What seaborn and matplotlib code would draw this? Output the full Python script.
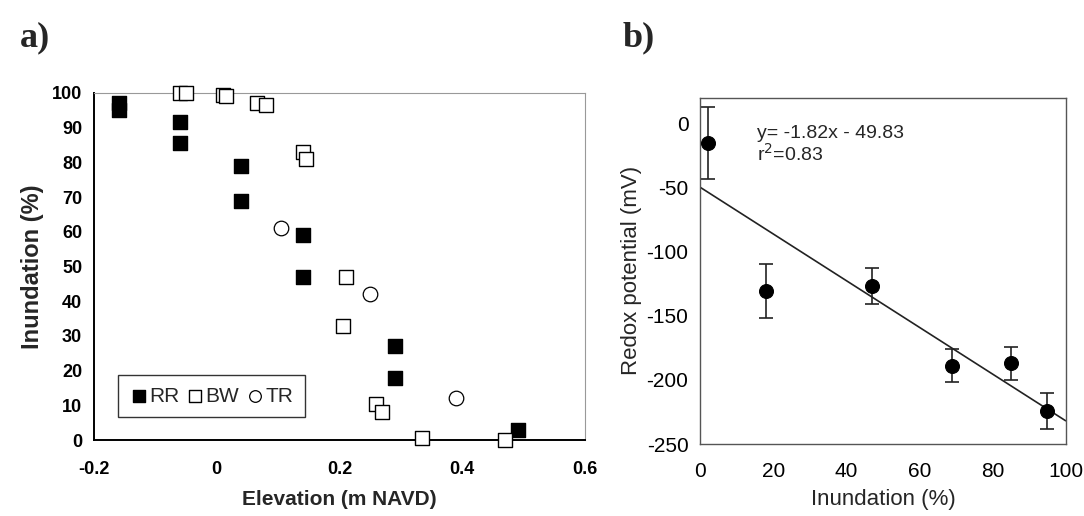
import matplotlib
matplotlib.use("Agg")
import matplotlib.pyplot as plt
import seaborn as sns
import pandas as pd

# panel a: elevation vs inundation for three marshes
rr_elev = [-0.16, -0.16, -0.06, -0.06, 0.04, 0.04, 0.14, 0.14, 0.29, 0.29, 0.49]
rr_inund = [97, 95, 91.5, 85.5, 79, 69, 59, 47, 27, 18, 3]
bw_elev = [-0.06, -0.05, 0.01, 0.015, 0.065, 0.08, 0.14, 0.145, 0.21, 0.205, 0.26, 0.27, 0.335, 0.47]
bw_inund = [100, 100, 99.5, 99, 97, 96.5, 83, 81, 47, 33, 10.5, 8, 0.5, 0]
tr_elev = [0.105, 0.25, 0.39]
tr_inund = [61, 42, 12]

# panel b: redox potential vs inundation
inund = [2, 18, 47, 69, 85, 95]
redox = [-15, -131, -127, -189, -187, -224]
redox_err = [28, 21, 14, 13, 13, 14]
slope, intercept = -1.82, -49.83
fit_x = [0, 100]

sns.set_style("white")
plt.rcParams['font.family'] = ['Liberation Sans', 'DejaVu Sans']
plt.rcParams['axes.unicode_minus'] = False

fig = plt.figure(figsize=(10.84, 5.16), dpi=100)
ax1 = fig.add_axes([0.0867, 0.147, 0.453, 0.673])
ax2 = fig.add_axes([0.646, 0.1395, 0.337, 0.671])

df_rr = pd.DataFrame({"x": rr_elev, "y": rr_inund})
df_bw = pd.DataFrame({"x": bw_elev, "y": bw_inund})
df_tr = pd.DataFrame({"x": tr_elev, "y": tr_inund})

sns.scatterplot(data=df_rr, x="x", y="y", ax=ax1, marker="s", s=110,
                color="black", edgecolor="black", linewidth=1, label="RR", clip_on=False, zorder=3)
sns.scatterplot(data=df_bw, x="x", y="y", ax=ax1, marker="s", s=110,
                facecolor="white", edgecolor="black", linewidth=1, label="BW", clip_on=False, zorder=3)
sns.scatterplot(data=df_tr, x="x", y="y", ax=ax1, marker="o", s=110,
                facecolor="white", edgecolor="black", linewidth=0.9, label="TR", clip_on=False, zorder=3)

ax1.set_xlim(-0.2, 0.6)
ax1.set_ylim(0, 100)
ax1.set_xticks([-0.2, 0, 0.2, 0.4, 0.6])
ax1.set_xticklabels(["-0.2", "0", "0.2", "0.4", "0.6"])
ax1.set_yticks(range(0, 101, 10))
ax1.tick_params(axis="both", direction="out", length=5, width=1.2, labelsize=13, colors="black")
ax1.tick_params(axis="x", pad=10)
for lab in ax1.get_xticklabels() + ax1.get_yticklabels():
    lab.set_fontweight("bold")
ax1.set_xlabel("Elevation (m NAVD)", fontsize=15, fontweight="bold", labelpad=9)
ax1.set_ylabel("Inundation (%)", fontsize=17, fontweight="bold", labelpad=6)
ax1.spines["left"].set_color("black")
ax1.spines["bottom"].set_color("black")
ax1.spines["left"].set_linewidth(1.4)
ax1.spines["bottom"].set_linewidth(1.4)
ax1.spines["top"].set_color("#999999")
ax1.spines["right"].set_color("#999999")
leg = ax1.legend(loc="lower left", bbox_to_anchor=(0.049, 0.066), ncol=3, fontsize=15,
                 handletextpad=0.05, columnspacing=0.3, borderpad=0.55, handlelength=0.9,
                 frameon=True, fancybox=False, edgecolor="black", markerscale=0.8,
                 borderaxespad=0)
leg.get_frame().set_linewidth(1.0)

# panel b
df_b = pd.DataFrame({"x": inund, "y": redox})
ax2.errorbar(inund, redox, yerr=redox_err, fmt="none", ecolor="#222222",
             elinewidth=1.2, capsize=5, capthick=1.2, zorder=2)
sns.scatterplot(data=df_b, x="x", y="y", ax=ax2, marker="o", s=100,
                color="black", edgecolor="black", zorder=3)
df_fit = pd.DataFrame({"x": fit_x, "y": [slope * v + intercept for v in fit_x]})
sns.lineplot(data=df_fit, x="x", y="y", ax=ax2, color="#222222", linewidth=1.2, zorder=1)

ax2.set_xlim(0, 100)
ax2.set_ylim(-250, 20)
ax2.set_xticks(range(0, 101, 20))
ax2.set_yticks([0, -50, -100, -150, -200, -250])
ax2.tick_params(axis="both", direction="out", length=5, width=1.0, labelsize=15, colors="black")
ax2.tick_params(axis="x", direction="in", pad=13)
ax2.set_xlabel("Inundation (%)", fontsize=16, labelpad=6)
ax2.set_ylabel("Redox potential (mV)", fontsize=16, labelpad=3)
for sp in ax2.spines.values():
    sp.set_color("#555555")
    sp.set_linewidth(1.0)
ax2.text(0.156, 0.92, "y= -1.82x - 49.83\nr$^2$=0.83", transform=ax2.transAxes,
         fontsize=14, va="top", ha="left", linespacing=1.0)

fig.text(0.018, 0.91, "a)", family=["Liberation Serif"], fontsize=26, fontweight="bold")
fig.text(0.574, 0.91, "b)", family=["Liberation Serif"], fontsize=26, fontweight="bold")

fig.savefig("out.png", dpi=100)
